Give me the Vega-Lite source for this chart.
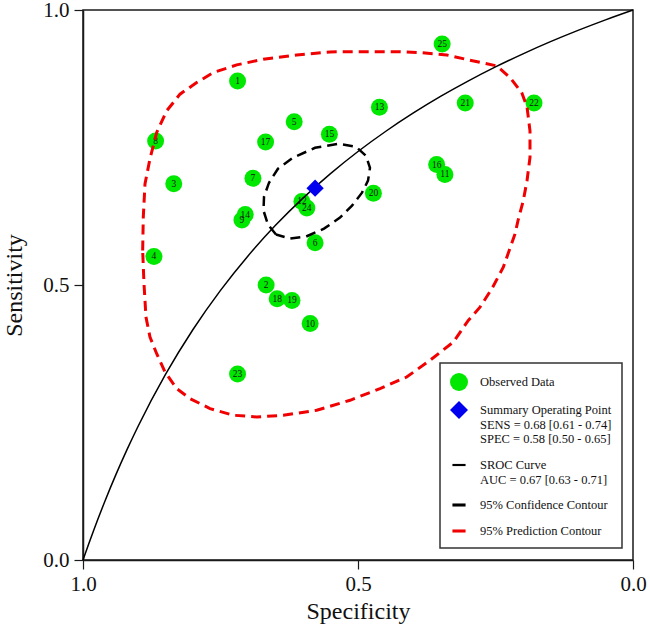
{
  "$schema": "https://vega.github.io/schema/vega-lite/v6.json",
  "width": 550,
  "height": 550,
  "autosize": {"type": "none"},
  "padding": {"left": 83, "top": 10, "right": 17, "bottom": 67},
  "background": "white",
  "config": {
    "view": {"stroke": "#1a1a1a", "strokeWidth": 1.5},
    "axis": {
      "grid": false,
      "domainColor": "#1a1a1a",
      "domainWidth": 1.5,
      "tickColor": "#1a1a1a",
      "tickWidth": 1.2,
      "tickSize": 9,
      "labelFont": "Liberation Serif",
      "labelFontSize": 21,
      "labelColor": "#111111",
      "labelFlush": false,
      "titleFont": "Liberation Serif",
      "titleFontSize": 24,
      "titleFontWeight": "normal",
      "titleColor": "#111111"
    },
    "legend": {
      "orient": "none",
      "legendX": 357,
      "legendY": 353,
      "padding": 10,
      "rowPadding": 10,
      "fillColor": "white",
      "strokeColor": "#333333",
      "strokeWidth": 1.5,
      "labelFont": "Liberation Serif",
      "labelFontSize": 12.5,
      "labelColor": "#111111",
      "labelLimit": 300,
      "labelOffset": 12,
      "symbolSize": 324,
      "symbolStrokeWidth": 0,
      "symbolOpacity": 1
    }
  },
  "datasets": {
    "studies": [
      {"id": "1", "spec": 0.719, "sens": 0.871},
      {"id": "2", "spec": 0.667, "sens": 0.500},
      {"id": "3", "spec": 0.835, "sens": 0.684},
      {"id": "4", "spec": 0.871, "sens": 0.552},
      {"id": "5", "spec": 0.616, "sens": 0.797},
      {"id": "6", "spec": 0.578, "sens": 0.577},
      {"id": "7", "spec": 0.691, "sens": 0.694},
      {"id": "8", "spec": 0.868, "sens": 0.762},
      {"id": "9", "spec": 0.711, "sens": 0.618},
      {"id": "10", "spec": 0.587, "sens": 0.430},
      {"id": "11", "spec": 0.342, "sens": 0.701},
      {"id": "12", "spec": 0.602, "sens": 0.652},
      {"id": "13", "spec": 0.461, "sens": 0.823},
      {"id": "14", "spec": 0.705, "sens": 0.628},
      {"id": "15", "spec": 0.552, "sens": 0.774},
      {"id": "16", "spec": 0.357, "sens": 0.719},
      {"id": "17", "spec": 0.668, "sens": 0.760},
      {"id": "18", "spec": 0.647, "sens": 0.475},
      {"id": "19", "spec": 0.620, "sens": 0.472},
      {"id": "20", "spec": 0.472, "sens": 0.667},
      {"id": "21", "spec": 0.305, "sens": 0.831},
      {"id": "22", "spec": 0.180, "sens": 0.831},
      {"id": "23", "spec": 0.719, "sens": 0.338},
      {"id": "24", "spec": 0.593, "sens": 0.640},
      {"id": "25", "spec": 0.347, "sens": 0.938}
    ],
    "summary": [
      {"spec": 0.578, "sens": 0.676}
    ],
    "sroc": [
      {"spec": 1.0, "sens": 0.0},
      {"spec": 0.99, "sens": 0.0283},
      {"spec": 0.98, "sens": 0.0556},
      {"spec": 0.96, "sens": 0.1073},
      {"spec": 0.94, "sens": 0.1556},
      {"spec": 0.92, "sens": 0.2006},
      {"spec": 0.90, "sens": 0.2428},
      {"spec": 0.85, "sens": 0.3374},
      {"spec": 0.80, "sens": 0.4191},
      {"spec": 0.75, "sens": 0.4903},
      {"spec": 0.70, "sens": 0.5529},
      {"spec": 0.65, "sens": 0.6085},
      {"spec": 0.60, "sens": 0.6580},
      {"spec": 0.55, "sens": 0.7025},
      {"spec": 0.50, "sens": 0.7427},
      {"spec": 0.45, "sens": 0.7791},
      {"spec": 0.40, "sens": 0.8123},
      {"spec": 0.35, "sens": 0.8428},
      {"spec": 0.30, "sens": 0.8707},
      {"spec": 0.25, "sens": 0.8965},
      {"spec": 0.20, "sens": 0.9203},
      {"spec": 0.15, "sens": 0.9424},
      {"spec": 0.10, "sens": 0.9629},
      {"spec": 0.05, "sens": 0.9821},
      {"spec": 0.0, "sens": 1.0}
    ],
    "conf": [
      {"i": 1, "spec": 0.6491, "sens": 0.5917},
      {"i": 2, "spec": 0.6636, "sens": 0.6098},
      {"i": 3, "spec": 0.6718, "sens": 0.6352},
      {"i": 4, "spec": 0.6709, "sens": 0.6606},
      {"i": 5, "spec": 0.6618, "sens": 0.6860},
      {"i": 6, "spec": 0.6455, "sens": 0.7114},
      {"i": 7, "spec": 0.6182, "sens": 0.7314},
      {"i": 8, "spec": 0.5782, "sens": 0.7495},
      {"i": 9, "spec": 0.5364, "sens": 0.7568},
      {"i": 10, "spec": 0.5036, "sens": 0.7514},
      {"i": 11, "spec": 0.4855, "sens": 0.7350},
      {"i": 12, "spec": 0.4782, "sens": 0.7132},
      {"i": 13, "spec": 0.4818, "sens": 0.6897},
      {"i": 14, "spec": 0.4927, "sens": 0.6679},
      {"i": 15, "spec": 0.5109, "sens": 0.6443},
      {"i": 16, "spec": 0.5327, "sens": 0.6225},
      {"i": 17, "spec": 0.5618, "sens": 0.6025},
      {"i": 18, "spec": 0.5945, "sens": 0.5880},
      {"i": 19, "spec": 0.6236, "sens": 0.5844},
      {"i": 20, "spec": 0.6491, "sens": 0.5917}
    ],
    "pred": [
      {"i": 1, "spec": 0.8915, "sens": 0.5626},
      {"i": 2, "spec": 0.8904, "sens": 0.6230},
      {"i": 3, "spec": 0.8873, "sens": 0.6837},
      {"i": 4, "spec": 0.8782, "sens": 0.7296},
      {"i": 5, "spec": 0.8660, "sens": 0.7773},
      {"i": 6, "spec": 0.8478, "sens": 0.8167},
      {"i": 7, "spec": 0.8236, "sens": 0.8470},
      {"i": 8, "spec": 0.7933, "sens": 0.8681},
      {"i": 9, "spec": 0.7631, "sens": 0.8862},
      {"i": 10, "spec": 0.7205, "sens": 0.9002},
      {"i": 11, "spec": 0.6722, "sens": 0.9105},
      {"i": 12, "spec": 0.6115, "sens": 0.9183},
      {"i": 13, "spec": 0.5509, "sens": 0.9238},
      {"i": 14, "spec": 0.4909, "sens": 0.9243},
      {"i": 15, "spec": 0.4236, "sens": 0.9241},
      {"i": 16, "spec": 0.3873, "sens": 0.9225},
      {"i": 17, "spec": 0.3387, "sens": 0.9183},
      {"i": 18, "spec": 0.2964, "sens": 0.9087},
      {"i": 19, "spec": 0.2478, "sens": 0.8984},
      {"i": 20, "spec": 0.2236, "sens": 0.8771},
      {"i": 21, "spec": 0.2024, "sens": 0.8499},
      {"i": 22, "spec": 0.1927, "sens": 0.8240},
      {"i": 23, "spec": 0.1873, "sens": 0.7804},
      {"i": 24, "spec": 0.1873, "sens": 0.7319},
      {"i": 25, "spec": 0.1927, "sens": 0.6897},
      {"i": 26, "spec": 0.1995, "sens": 0.6534},
      {"i": 27, "spec": 0.2091, "sens": 0.6171},
      {"i": 28, "spec": 0.2145, "sens": 0.5929},
      {"i": 29, "spec": 0.2358, "sens": 0.5323},
      {"i": 30, "spec": 0.2564, "sens": 0.4936},
      {"i": 31, "spec": 0.2782, "sens": 0.4597},
      {"i": 32, "spec": 0.2995, "sens": 0.4356},
      {"i": 33, "spec": 0.3267, "sens": 0.3962},
      {"i": 34, "spec": 0.3691, "sens": 0.3630},
      {"i": 35, "spec": 0.4115, "sens": 0.3327},
      {"i": 36, "spec": 0.4600, "sens": 0.3116},
      {"i": 37, "spec": 0.5145, "sens": 0.2904},
      {"i": 38, "spec": 0.5751, "sens": 0.2722},
      {"i": 39, "spec": 0.6358, "sens": 0.2632},
      {"i": 40, "spec": 0.6842, "sens": 0.2601},
      {"i": 41, "spec": 0.7267, "sens": 0.2632},
      {"i": 42, "spec": 0.7691, "sens": 0.2753},
      {"i": 43, "spec": 0.8055, "sens": 0.2935},
      {"i": 44, "spec": 0.8296, "sens": 0.3116},
      {"i": 45, "spec": 0.8509, "sens": 0.3417},
      {"i": 46, "spec": 0.8660, "sens": 0.3751},
      {"i": 47, "spec": 0.8782, "sens": 0.4053},
      {"i": 48, "spec": 0.8855, "sens": 0.4416},
      {"i": 49, "spec": 0.8891, "sens": 0.5022},
      {"i": 50, "spec": 0.8915, "sens": 0.5626}
    ]
  },
  "encoding": {
    "x": {
      "field": "spec",
      "type": "quantitative",
      "scale": {"domain": [0, 1], "reverse": true, "nice": false, "zero": false},
      "axis": {"values": [0, 0.5, 1], "format": ".1f", "title": "Specificity", "labelPadding": 4, "titlePadding": 5}
    },
    "y": {
      "field": "sens",
      "type": "quantitative",
      "scale": {"domain": [0, 1], "nice": false, "zero": false},
      "axis": {"values": [0, 0.5, 1], "format": ".1f", "title": "Sensitivity", "labelPadding": 5, "titlePadding": 16}
    }
  },
  "layer": [
    {
      "data": {"name": "studies"},
      "mark": {"type": "point", "filled": true, "opacity": 1, "size": 289, "strokeWidth": 0},
      "encoding": {
        "color": {
          "datum": "Observed Data",
          "type": "nominal",
          "scale": {
            "domain": ["Observed Data", "Summary Operating Point", "SROC Curve", "95% Confidence Contour", "95% Prediction Contour"],
            "range": ["#00e800", "#0000ee", "#000000", "#000000", "#f00000"]
          },
          "legend": {
            "title": null,
            "labelExpr": "datum.label == 'Summary Operating Point' ? ['Summary Operating Point', 'SENS = 0.68 [0.61 - 0.74]', 'SPEC = 0.58 [0.50 - 0.65]'] : datum.label == 'SROC Curve' ? ['SROC Curve', 'AUC = 0.67 [0.63 - 0.71]'] : datum.label"
          }
        },
        "shape": {
          "datum": "Observed Data",
          "type": "nominal",
          "scale": {
            "domain": ["Observed Data", "Summary Operating Point", "SROC Curve", "95% Confidence Contour", "95% Prediction Contour"],
            "range": ["circle", "diamond", "M-0.73,-0.12H0.73V0.12H-0.73Z", "M-0.73,-0.17H0.73V0.17H-0.73Z", "M-0.73,-0.17H0.73V0.17H-0.73Z"]
          },
          "legend": {
            "title": null,
            "labelExpr": "datum.label == 'Summary Operating Point' ? ['Summary Operating Point', 'SENS = 0.68 [0.61 - 0.74]', 'SPEC = 0.58 [0.50 - 0.65]'] : datum.label == 'SROC Curve' ? ['SROC Curve', 'AUC = 0.67 [0.63 - 0.71]'] : datum.label"
          }
        }
      }
    },
    {
      "data": {"name": "studies"},
      "mark": {"type": "text", "font": "Liberation Serif", "fontSize": 9.5, "color": "#111111", "baseline": "middle", "align": "center"},
      "encoding": {"text": {"field": "id"}}
    },
    {
      "data": {"name": "pred"},
      "mark": {"type": "line", "color": "#f00000", "strokeWidth": 3, "strokeDash": [10, 6]},
      "encoding": {"order": {"field": "i"}}
    },
    {
      "data": {"name": "conf"},
      "mark": {"type": "line", "color": "#000000", "strokeWidth": 2.5, "strokeDash": [10, 6]},
      "encoding": {"order": {"field": "i"}}
    },
    {
      "data": {"name": "sroc"},
      "mark": {"type": "line", "color": "#000000", "strokeWidth": 1.5, "interpolate": "monotone"},
      "encoding": {}
    },
    {
      "data": {"name": "summary"},
      "mark": {"type": "point", "filled": true, "opacity": 1, "size": 300, "strokeWidth": 0},
      "encoding": {
        "color": {"datum": "Summary Operating Point", "type": "nominal"},
        "shape": {"datum": "Summary Operating Point", "type": "nominal"}
      }
    }
  ]
}
